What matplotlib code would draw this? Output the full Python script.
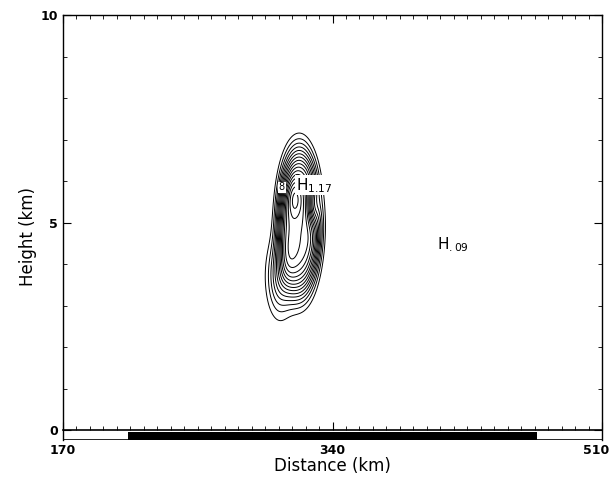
import numpy as np
import matplotlib.pyplot as plt
from matplotlib.ticker import MultipleLocator, FixedLocator
from matplotlib.transforms import ScaledTranslation

# blob description of the contoured field (distance km, height km)
blob_x = [319, 307, 328, 316]
blob_z = [5.0, 3.7, 5.4, 5.6]
blob_sx = [13.5, 8.0, 4.0, 5.0]
blob_sz = [1.75, 0.9, 0.5, 0.5]
blob_p = [2.0, 1.0, 1.0, 1.0]
blob_amp = [1.0, 0.4, -0.35, 0.2]

levels = np.arange(0.1, 1.2, 0.07)

land_start, land_end = 211, 469
max_label = ("1.17", 317, 5.9)
min_label = (".09", 406, 4.46)
contour_label = ("8", 308, 5.85)

xg = np.linspace(170, 510, 900)
zg = np.linspace(0, 10, 700)
X, Z = np.meshgrid(xg, zg)
F = np.zeros_like(X)
for bx, bz, sx, sz, p, a in zip(blob_x, blob_z, blob_sx, blob_sz, blob_p, blob_amp):
    r = ((X - bx) / sx) ** 2 + ((Z - bz) / sz) ** 2
    F += a * np.exp(-r ** p)

fig = plt.figure(figsize=(6.11, 4.8), dpi=100)
ax = fig.add_axes([63 / 611, 1 - 440 / 480, 539 / 611, 425 / 480])

ax.contour(X, Z, F, levels=levels, colors='k', linewidths=0.7)

ax.set_xlim(170, 510)
ax.set_ylim(-0.24, 10)

# land bar under the zero line
ax.fill_between([land_start, land_end], -0.24, -0.04, color='k', lw=0)
ax.axhline(-0.24, color='k', lw=1.2)
ax.spines['bottom'].set_position(('data', 0))
ax.spines['bottom'].set_linewidth(1.2)
for s in ['top', 'left', 'right']:
    ax.spines[s].set_linewidth(1.0)

ax.xaxis.set_major_locator(FixedLocator([170, 340, 510]))
ax.xaxis.set_minor_locator(MultipleLocator(8.5))
ax.yaxis.set_major_locator(FixedLocator([0, 5, 10]))
ax.yaxis.set_minor_locator(MultipleLocator(1))
ax.tick_params(which='both', direction='in', top=True, right=True)
ax.tick_params(which='major', length=6, labelsize=9)
ax.tick_params(which='minor', length=3)
ax.tick_params(axis='x', pad=10)
for lab in ax.get_xticklabels() + ax.get_yticklabels():
    lab.set_fontweight('bold')
last = ax.get_xticklabels()[-1]
last.set_ha('right')
last.set_transform(last.get_transform() + ScaledTranslation(7 / 100, 0, fig.dpi_scale_trans))

ax.set_xlabel('Distance (km)', fontsize=12, labelpad=0)
ax.set_ylabel('Height (km)', fontsize=12)
ax.yaxis.set_label_coords(-0.048, 0.48)

ax.text(max_label[1], max_label[2], r'H$_{\mathregular{' + max_label[0] + '}}$',
        fontsize=11, va='center', ha='left',
        bbox=dict(facecolor='white', edgecolor='none', pad=0.5))
ax.text(min_label[1], min_label[2], r'H$_{\mathregular{' + min_label[0] + '}}$',
        fontsize=11, va='center', ha='left')
ax.text(contour_label[1], contour_label[2], contour_label[0], fontsize=7,
        va='center', ha='center',
        bbox=dict(facecolor='white', edgecolor='none', pad=0.5))

fig.savefig('out.png', dpi=100)
